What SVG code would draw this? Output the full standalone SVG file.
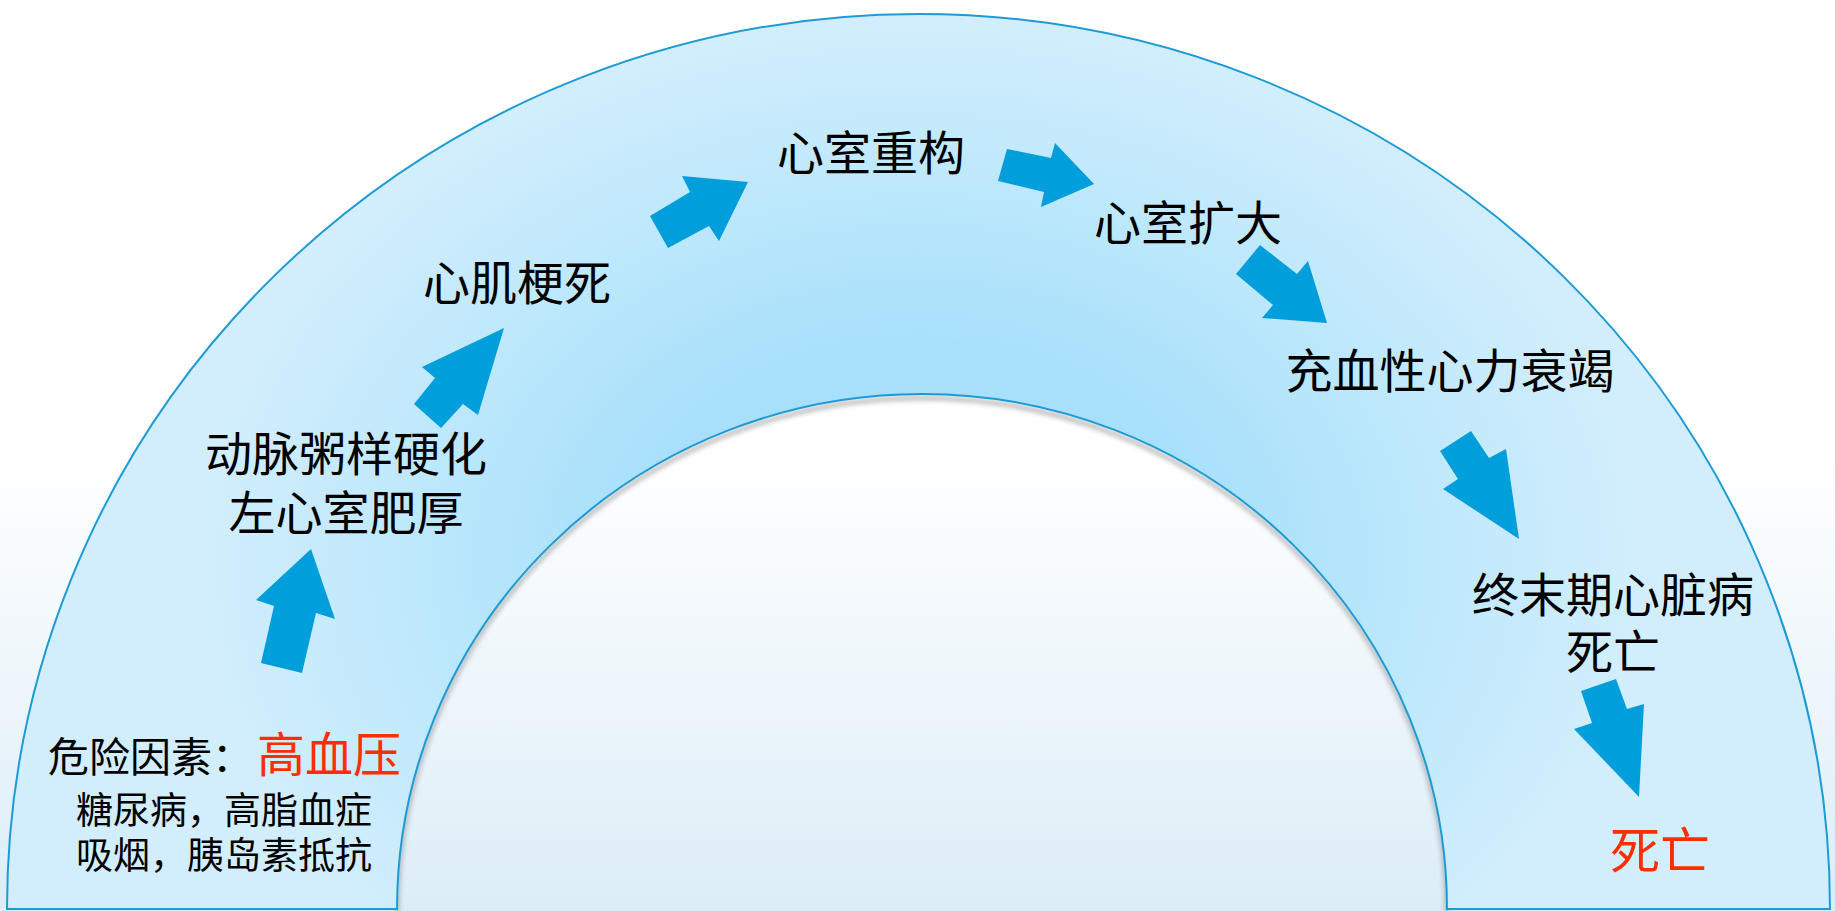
<svg xmlns="http://www.w3.org/2000/svg" width="1835" height="911" viewBox="0 0 1835 911">
  <defs>
    <linearGradient id="bg" x1="0" y1="0" x2="0" y2="1">
      <stop offset="0" stop-color="#ffffff"/>
      <stop offset="0.5" stop-color="#ffffff"/>
      <stop offset="1" stop-color="#dcedf7"/>
    </linearGradient>
    <radialGradient id="band" gradientUnits="userSpaceOnUse" cx="0" cy="0" r="1" gradientTransform="translate(920,560) scale(720,540)">
      <stop offset="0.4" stop-color="#a8e0fb"/>
      <stop offset="0.7" stop-color="#bde8fc"/>
      <stop offset="1" stop-color="#d2eefc"/>
    </radialGradient>
    <filter id="soft" x="-5%" y="-5%" width="110%" height="110%">
      <feGaussianBlur stdDeviation="2.5"/>
    </filter>
    <style>
      .lbl { font-family: "Noto Sans CJK SC", "Noto Sans", sans-serif; font-size: 47px; fill: #000000; }
      .mid { text-anchor: middle; }
      .red { fill: #ff2d00; }
      .arrow { fill: #009edb; stroke: none; }
      .edge { fill: url(#band); stroke: #1c9bd7; stroke-width: 2; }
    </style>
  </defs>

  <rect x="0" y="0" width="1835" height="911" fill="url(#bg)"/>

  <g id="arch">
    <path d="M 1447,909 A 525 515 0 0 0 397,909" fill="none" stroke="#666666" stroke-width="4" opacity="0.5" filter="url(#soft)" transform="translate(0,4)"/>
    <path class="edge" d="M 7,909 A 911.5 895 0 0 1 1830,909 L 1447,909 A 525 515 0 0 0 397,909 Z"/>
  </g>

  <g id="connectors">
    <polygon class="arrow" points="311,549 335,619 316,613 302,673 261,663 274,606 256,600"/>
    <polygon class="arrow" points="504,328 478,415 463,404 441,428 414,404 435,378 422,367"/>
    <polygon class="arrow" points="748,182 719,241 709,226 668,248 650,216 690,192 682,176"/>
    <polygon class="arrow" points="1094,184 1041,207 1044,192 998,181 1007,149 1051,158 1055,143"/>
    <polygon class="arrow" points="1327,323 1262,318 1273,305 1236,274 1260,245 1297,274 1308,261"/>
    <polygon class="arrow" points="1519,539 1443,489 1458,479 1440,451 1471,431 1489,458 1506,449"/>
    <polygon class="arrow" points="1639,797 1574,729 1592,723 1581,691 1616,679 1627,709 1644,704"/>
  </g>

  <g id="node-risk">
    <text class="lbl" x="48" y="772" style="font-size:41px">危险因素：<tspan class="red" style="font-size:48px" dx="4">高血压</tspan></text>
    <text class="lbl" x="76" y="824" style="font-size:37px">糖尿病，高脂血症</text>
    <text class="lbl" x="76" y="869" style="font-size:37px">吸烟，胰岛素抵抗</text>
  </g>
  <g id="node-athero">
    <text class="lbl mid" x="346" y="471">动脉粥样硬化</text>
    <text class="lbl mid" x="346" y="530">左心室肥厚</text>
  </g>
  <g id="node-mi">
    <text class="lbl mid" x="517" y="300">心肌梗死</text>
  </g>
  <g id="node-remodel">
    <text class="lbl mid" x="871" y="170">心室重构</text>
  </g>
  <g id="node-dilate">
    <text class="lbl mid" x="1188" y="240">心室扩大</text>
  </g>
  <g id="node-chf">
    <text class="lbl mid" x="1450" y="388">充血性心力衰竭</text>
  </g>
  <g id="node-eshd">
    <text class="lbl mid" x="1613" y="612">终末期心脏病</text>
    <text class="lbl mid" x="1613" y="669">死亡</text>
  </g>
  <g id="node-death">
    <text class="lbl mid red" x="1660" y="869" style="font-size:50px">死亡</text>
  </g>
</svg>
